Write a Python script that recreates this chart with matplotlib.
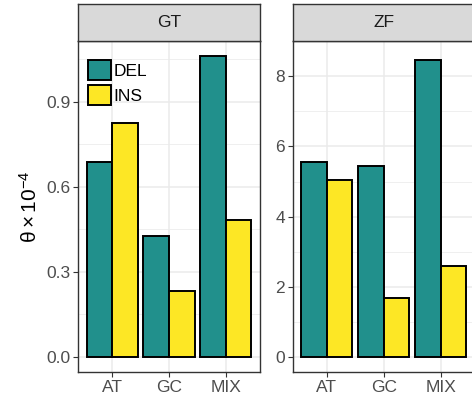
import numpy as np
import matplotlib
matplotlib.use("Agg")
import matplotlib.pyplot as plt
from matplotlib.patches import Patch

plt.rcParams['font.family'] = ['Liberation Sans', 'DejaVu Sans']
plt.rcParams['mathtext.fontset'] = 'custom'
plt.rcParams['mathtext.rm'] = 'Liberation Sans'
plt.rcParams['mathtext.it'] = 'Liberation Sans:italic'

# values in units of 1e-4
categories = ['AT', 'GC', 'MIX']
panels = ['GT', 'ZF']
del_vals = {'GT': [0.689, 0.427, 1.062], 'ZF': [5.55, 5.43, 8.45]}
ins_vals = {'GT': [0.826, 0.233, 0.485], 'ZF': [5.05, 1.68, 2.60]}
yticks = {'GT': [0.0, 0.3, 0.6, 0.9], 'ZF': [0, 2, 4, 6, 8]}
ytick_labels = {'GT': ['0.0', '0.3', '0.6', '0.9'], 'ZF': ['0', '2', '4', '6', '8']}

teal = '#21908C'
yellow = '#FDE725'
border = '#333333'
fs = 12.5

W, H = 472, 403
fig = plt.figure(figsize=(W / 100, H / 100), dpi=100)

lefts = [78, 292.7]
pw = 182
top, bottom = 41, 372
strip_top = 4

x = np.arange(len(categories)) + 1
bw = 0.45

for i, name in enumerate(panels):
    l = lefts[i]
    ax = fig.add_axes([l / W, 1 - bottom / H, pw / W, (bottom - top) / H])
    dv = del_vals[name]
    iv = ins_vals[name]
    ax.bar(x - bw / 2, dv, width=bw, color=teal, edgecolor='black', linewidth=1.4, zorder=3, label='DEL')
    ax.bar(x + bw / 2, iv, width=bw, color=yellow, edgecolor='black', linewidth=1.4, zorder=3, label='INS')

    ymax = max(max(dv), max(iv))
    ax.set_ylim(-0.05 * ymax, ymax * 1.05)
    ax.set_xlim(0.4, 3.6)

    yt = yticks[name]
    ax.set_yticks(yt)
    ax.set_yticklabels(ytick_labels[name])
    step = yt[1] - yt[0]
    ax.set_yticks([v + step / 2 for v in yt], minor=True)
    ax.set_xticks(x)
    ax.set_xticklabels(categories)

    ax.grid(True, which='major', color='#EBEBEB', linewidth=1.1, zorder=0)
    ax.grid(True, which='minor', axis='y', color='#EBEBEB', linewidth=0.55, zorder=0)
    ax.tick_params(which='major', length=3.5, width=0.8, color=border, labelcolor='#4D4D4D',
                   labelsize=fs, pad=2)
    ax.tick_params(which='minor', length=0)
    for s in ax.spines.values():
        s.set_color(border)
        s.set_linewidth(1.0)

    # facet strip
    sax = fig.add_axes([l / W, 1 - top / H, pw / W, (top - strip_top) / H])
    sax.set_facecolor('#D9D9D9')
    sax.set_xticks([])
    sax.set_yticks([])
    for s in sax.spines.values():
        s.set_color(border)
        s.set_linewidth(1.0)
    sax.text(0.5, 0.5, name, ha='center', va='center', fontsize=fs, color='#1A1A1A',
             transform=sax.transAxes)

    if i == 0:
        ax.set_ylabel(r'$\mathrm{\theta\times10^{-4}}$', fontsize=15, labelpad=4)
        handles = [Patch(facecolor=teal, edgecolor='black', linewidth=1.4),
                   Patch(facecolor=yellow, edgecolor='black', linewidth=1.4)]
        leg = ax.legend(handles, ['DEL', 'INS'], loc='upper left', bbox_to_anchor=(0.036, 0.953),
                        frameon=False, fontsize=fs, handlelength=1.35, handleheight=1.4,
                        handletextpad=0.1, labelspacing=0.28, borderpad=0.2, borderaxespad=0)

fig.savefig('out.png', dpi=100)
